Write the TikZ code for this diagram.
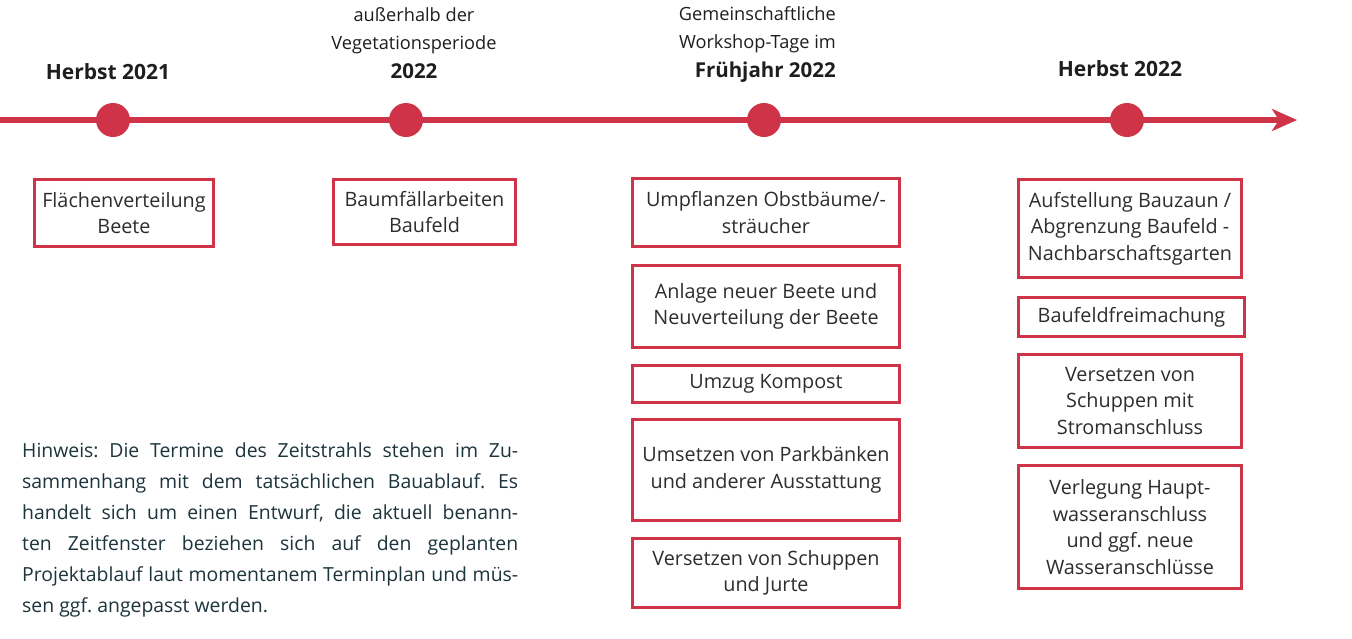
\documentclass[tikz,border=0pt]{standalone}
\usepackage{fontspec}
\setmainfont{Open Sans}
\usetikzlibrary{arrows.meta}
\definecolor{tred}{RGB}{207,51,72}
\definecolor{boxtxt}{RGB}{45,45,45}
\definecolor{lbltxt}{RGB}{30,30,30}
\definecolor{notetxt}{RGB}{28,52,60}
\begin{document}
\begin{tikzpicture}[x=1pt,y=-1pt,
  evbox/.style={draw=tred,line width=3pt,fill=white,align=center,text=boxtxt,
    font=\fontsize{19.8}{26.5}\selectfont\frenchspacing,inner sep=0pt},
  tdot/.style={circle,fill=tred,minimum size=34pt,inner sep=0pt},
  lbl/.style={text=lbltxt,font=\fontsize{18.2}{28.5}\selectfont,inner sep=0pt},
  lblb/.style={text=lbltxt,font=\fontsize{21}{28.5}\selectfont\bfseries,inner sep=0pt},
]
\useasboundingbox[fill=white] (0,0) rectangle (1352,638);

% timeline
\coordinate (tstart) at (0,120);
\coordinate (tend) at (1297,120);
\draw[tred,line width=6pt,-{Stealth[length=25pt,width=22pt,inset=7pt]}] (tstart) -- (tend);
\node[tdot] (d1) at (113,120) {};
\node[tdot] (d2) at (406,120) {};
\node[tdot] (d3) at (764,120) {};
\node[tdot] (d4) at (1127,120) {};

% period labels
\node[lblb] (l1) at (108,72) {Herbst 2021};
\node[lbl,align=center] (l2) at (414,43) {außerhalb der\\Vegetationsperiode\\{\fontsize{20.5}{28.5}\selectfont\bfseries 2022}};
\node[lbl,align=right,anchor=east] (l3) at (836,44) {Gemeinschaftliche\\Workshop-Tage im\\{\fontsize{20.5}{28.5}\selectfont\bfseries Frühjahr 2022}};
\node[lblb] (l4) at (1120,69) {Herbst 2022};

% boxes
\node[evbox,minimum width=179pt,minimum height=67pt] (b1) at (124,213) {Flächenverteilung\\Beete};
\node[evbox,minimum width=182pt,minimum height=65pt] (b2) at (424.5,212) {Baumfällarbeiten\\Baufeld};

\node[evbox,minimum width=267pt,minimum height=68pt] (b3) at (766,212.5) {Umpflanzen Obstbäume/-\\sträucher};
\node[evbox,minimum width=267pt,minimum height=82pt] (b4) at (766,306.5) {Anlage neuer Beete und\\Neuverteilung der Beete};
\node[evbox,minimum width=267pt,minimum height=37pt] (b5) at (766,384) {Umzug Kompost};
\node[evbox,minimum width=267pt,minimum height=101pt] (b6) at (766,470) {Umsetzen von Parkbänken\\und anderer Ausstattung};
\node[evbox,minimum width=267pt,minimum height=69pt] (b7) at (766,573) {Versetzen von Schuppen\\und Jurte};

\node[evbox,minimum width=223pt,minimum height=98pt] (b8) at (1130,228.5) {Aufstellung Bauzaun /\\Abgrenzung Baufeld -\\Nachbarschaftsgarten};
\node[evbox,minimum width=226pt,minimum height=39pt] (b9) at (1131.5,317) {Baufeldfreimachung};
\node[evbox,minimum width=223pt,minimum height=93pt] (b10) at (1130,401) {Versetzen von\\Schuppen mit\\Stromanschluss};
\node[evbox,minimum width=223pt,minimum height=123pt] (b11) at (1130,527) {Verlegung Haupt-\\wasseranschluss\\und ggf. neue\\Wasseranschlüsse};

% note
\node[anchor=north west,inner sep=0pt,text width=496pt,align=justify,text=notetxt,
  font=\fontsize{19.4}{31}\selectfont] (note) at (22,443) {%
\tolerance=10000\relax\hbadness=10000\relax\hyphenpenalty=10000\relax\frenchspacing
Hinweis: Die Termine des Zeitstrahls stehen im Zu-\linebreak
sammenhang mit dem tatsächlichen Bauablauf. Es\linebreak
handelt sich um einen Entwurf, die aktuell benann-\linebreak
ten Zeitfenster beziehen sich auf den geplanten\linebreak
Projektablauf laut momentanem Terminplan und müs-\linebreak
sen ggf. angepasst werden.};
\end{tikzpicture}
\end{document}
